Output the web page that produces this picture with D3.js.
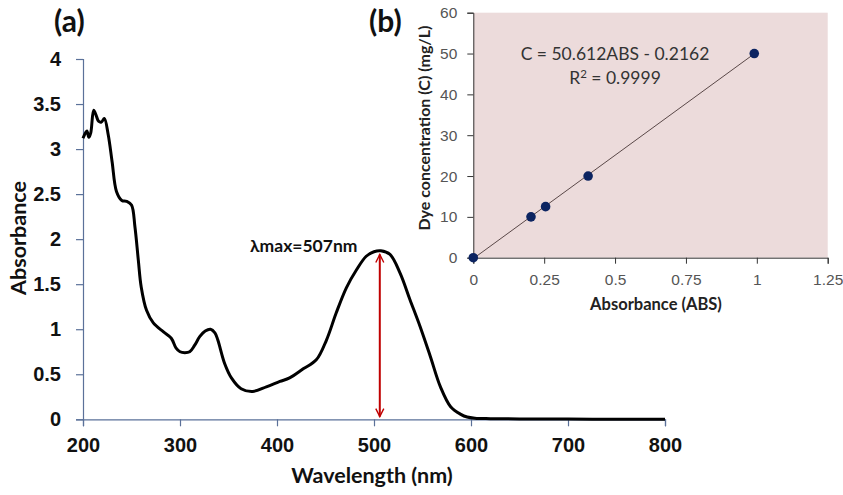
<!DOCTYPE html>
<html>
<head>
<meta charset="utf-8">
<script src="https://cdn.jsdelivr.net/npm/d3@7"></script>
<style>
  body { margin: 0; background: #fff; }
  svg { display: block; font-family: Lato, "Open Sans", sans-serif; }
</style>
</head>
<body>
<div id="container"></div>
<script>
// UV-vis spectrum (a)
var wavelength = [200,204,206,208,211,214,216,219,222,226,230,234.5,240,245,250,253.5,257,260,265.5,272.5,
  283,291,296,300,305,310,315,320.5,326,331.5,336,339,346,353,363,375,389,403,413,427,440.5,451,461,
  471.5,482,492,500,507,516.5,527,537,547.5,558,568.5,579,589.5,596,604,620,650,700,750,800];
var absorbance = [3.12,3.20,3.13,3.18,3.43,3.36,3.31,3.30,3.34,3.16,2.86,2.53,2.43,2.42,2.38,2.14,1.77,1.47,
  1.21,1.07,0.97,0.90,0.79,0.75,0.74,0.75,0.82,0.92,0.98,1.00,0.96,0.88,0.62,0.46,0.34,0.31,0.36,0.42,0.46,
  0.56,0.66,0.88,1.18,1.46,1.66,1.81,1.86,1.87,1.83,1.62,1.33,1.03,0.70,0.36,0.14,0.055,0.025,0.012,0.007,
  0.004,0.002,0.001,0.0];
var xTicksA = [200,300,400,500,600,700,800];
var yTicksA = [0,0.5,1,1.5,2,2.5,3,3.5,4];
var lambdaMax = 507, arrowTop = 1.83, arrowBottom = 0.03;

// calibration (b)
var calAbs = [0, 0.2035, 0.255, 0.405, 0.991];
var calConc = [0, 10, 12.5, 20, 50];
var slope = 50.612, intercept = -0.2162;
var xTicksB = [0,0.25,0.5,0.75,1,1.25];
var yTicksB = [0,10,20,30,40,50,60];

var w = 843, h = 495;
var svg = d3.select("div#container").append("svg")
  .attr("width", w).attr("height", h);

// ---------- panel (a) ----------
var x = d3.scaleLinear().domain([200, 800]).range([83, 665]);
var y = d3.scaleLinear().domain([0, 4]).range([419.3, 59]);
var axisCol = "#5b7199";

var gx = svg.append("g").attr("transform", "translate(0," + y(0) + ")")
  .call(d3.axisBottom(x).tickValues(xTicksA).tickSize(7).tickPadding(12).tickFormat(d3.format("d")));
var gy = svg.append("g").attr("transform", "translate(" + x(200) + ",0)")
  .call(d3.axisLeft(y).tickValues(yTicksA).tickSize(7).tickPadding(15).tickFormat(function(d) { return d; }));
[gx, gy].forEach(function(g) {
  g.select(".domain").attr("stroke", axisCol).attr("stroke-width", 1.2);
  g.selectAll(".tick line").attr("stroke", axisCol).attr("stroke-width", 1.2);
  g.selectAll(".tick text").attr("fill", "#111").style("font-size", "20px").style("font-weight", "bold");
});

var line = d3.line()
  .x(function(d, i) { return x(wavelength[i]); })
  .y(function(d) { return y(d); })
  .curve(d3.curveCatmullRom.alpha(0.5));
svg.append("path").datum(absorbance)
  .attr("d", line).attr("fill", "none").attr("stroke", "#000").attr("stroke-width", 3)
  .attr("stroke-linejoin", "round");

// arrow
var defs = svg.append("defs");
defs.append("marker").attr("id", "head").attr("viewBox", "0 0 10 10")
  .attr("refX", 9).attr("refY", 5).attr("markerWidth", 5).attr("markerHeight", 5)
  .attr("markerUnits", "strokeWidth").attr("orient", "auto-start-reverse")
  .append("path").attr("d", "M1,1 L9,5 L1,9").attr("fill", "none")
  .attr("stroke", "#c00000").attr("stroke-width", 1.4);
svg.append("line")
  .attr("x1", x(lambdaMax) - 1).attr("x2", x(lambdaMax) - 1)
  .attr("y1", y(arrowTop)).attr("y2", y(arrowBottom))
  .attr("stroke", "#c00000").attr("stroke-width", 2)
  .attr("marker-start", "url(#head)").attr("marker-end", "url(#head)");

svg.append("text").attr("x", 250).attr("y", 251.5)
  .style("font-size", "17.5px").style("font-weight", "bold").attr("fill", "#111")
  .text("λmax=507nm");

svg.append("text").attr("x", 372).attr("y", 483).attr("text-anchor", "middle")
  .style("font-size", "21.5px").style("font-weight", "bold").attr("fill", "#111")
  .text("Wavelength (nm)");
svg.append("text").attr("transform", "translate(26,238) rotate(-90)").attr("text-anchor", "middle")
  .style("font-size", "21.5px").style("font-weight", "bold").attr("fill", "#111")
  .text("Absorbance");

svg.append("text").attr("x", 54).attr("y", 32)
  .style("font-size", "30px").style("font-weight", "bold").attr("fill", "#111").text("(a)");
svg.append("text").attr("x", 369).attr("y", 32)
  .style("font-size", "30px").style("font-weight", "bold").attr("fill", "#111").text("(b)");

// ---------- panel (b) ----------
var xb = d3.scaleLinear().domain([0, 1.25]).range([473.3, 827.7]);
var yb = d3.scaleLinear().domain([0, 60]).range([257.7, 12.7]);

svg.append("rect").attr("x", xb(0)).attr("y", yb(60))
  .attr("width", xb(1.25) - xb(0)).attr("height", yb(0) - yb(60))
  .attr("fill", "#ecdbdb");

var gxb = svg.append("g").attr("transform", "translate(0," + yb(0) + ")")
  .call(d3.axisBottom(xb).tickValues(xTicksB).tickSize(6).tickPadding(10).tickFormat(function(d) { return d; }));
var gyb = svg.append("g").attr("transform", "translate(" + xb(0) + ",0)")
  .call(d3.axisLeft(yb).tickValues(yTicksB).tickSize(6).tickPadding(10));
[gxb, gyb].forEach(function(g) {
  g.select(".domain").attr("stroke", "#333").attr("stroke-width", 1);
  g.selectAll(".tick line").attr("stroke", "#333");
  g.selectAll(".tick text").attr("fill", "#555").style("font-size", "15.5px");
});

var xFit = d3.extent(calAbs);
svg.append("line")
  .attr("x1", xb(xFit[0])).attr("y1", yb(slope * xFit[0] + intercept))
  .attr("x2", xb(xFit[1])).attr("y2", yb(slope * xFit[1] + intercept))
  .attr("stroke", "#5a4848").attr("stroke-width", 1);

svg.append("g").selectAll("circle").data(calAbs).join("circle")
  .attr("cx", function(d) { return xb(d); })
  .attr("cy", function(d, i) { return yb(calConc[i]); })
  .attr("r", 4.8).attr("fill", "#0c2461");

svg.append("text").attr("x", 615).attr("y", 60).attr("text-anchor", "middle")
  .style("font-size", "17.5px").attr("fill", "#333")
  .text("C = 50.612ABS - 0.2162");
var r2 = svg.append("text").attr("x", 615).attr("y", 84).attr("text-anchor", "middle")
  .style("font-size", "17.5px").attr("fill", "#333");
r2.append("tspan").text("R");
r2.append("tspan").attr("dy", -6).style("font-size", "11.5px").text("2");
r2.append("tspan").attr("dy", 6).text(" = 0.9999");

svg.append("text").attr("x", 656).attr("y", 310).attr("text-anchor", "middle")
  .style("font-size", "16.5px").style("font-weight", "bold").attr("fill", "#222")
  .text("Absorbance (ABS)");
svg.append("text").attr("transform", "translate(430,128) rotate(-90)").attr("text-anchor", "middle")
  .style("font-size", "16px").style("font-weight", "bold").attr("fill", "#222")
  .text("Dye concentration (C) (mg/L)");
</script>
</body>
</html>
